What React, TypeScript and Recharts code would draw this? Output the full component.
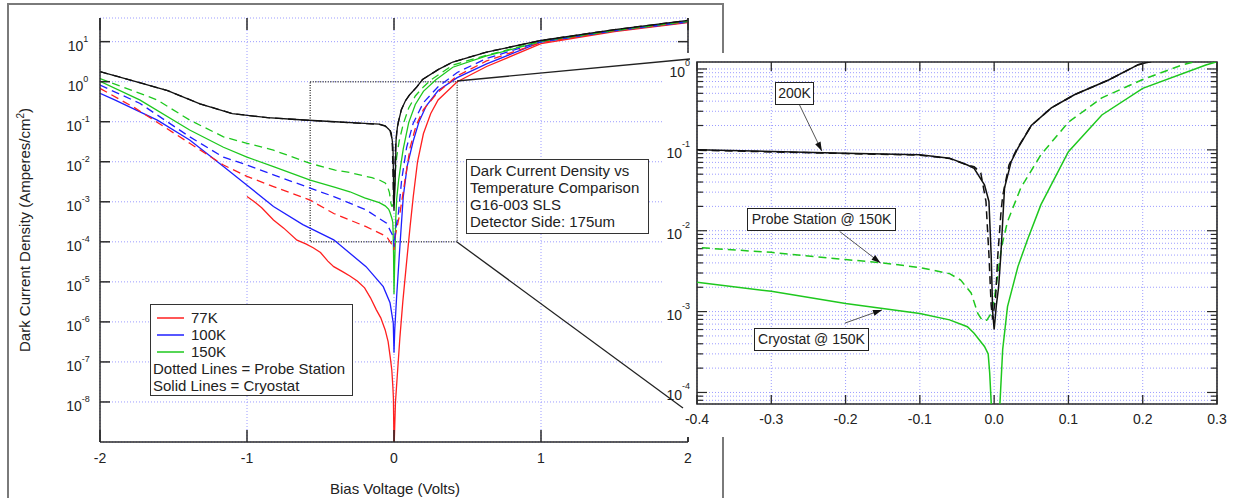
import {
  CartesianGrid,
  Legend,
  Line,
  LineChart,
  ReferenceArea,
  ReferenceLine,
  XAxis,
  YAxis,
} from "recharts";

// 77K
const bias77Cryo = [-1.0, -0.95, -0.9, -0.82, -0.75, -0.66, -0.6, -0.55, -0.5, -0.45, -0.41, -0.35, -0.3, -0.25, -0.2, -0.16, -0.12, -0.09, -0.06, -0.04, -0.025, -0.015, -0.008, -0.004, -0.002, 0, 0.005, 0.01, 0.025, 0.04, 0.06, 0.086, 0.11, 0.131, 0.16, 0.2, 0.25, 0.3, 0.43, 0.63, 1.0, 1.5, 2.0];
const jd77Cryo = [1.35e-3, 1.0e-3, 7.1e-4, 3.5e-4, 2.2e-4, 1.1e-4, 8.9e-5, 7.1e-5, 5.4e-5, 3.3e-5, 2.4e-5, 1.8e-5, 1.4e-5, 1.05e-5, 7.1e-6, 4e-6, 2e-6, 1.26e-6, 6.3e-7, 3.2e-7, 1.26e-7, 6.3e-8, 2.5e-8, 1.26e-8, 3.2e-9, 6e-10, 2.5e-9, 1e-8, 6.3e-8, 4e-7, 3.2e-6, 3.2e-5, 2.5e-4, 1.35e-3, 0.01, 0.05, 0.16, 0.35, 1.0, 2.4, 8.9, 17.8, 30];
const bias77Probe = [-2, -1.77, -1.39, -1.16, -1.0, -0.82, -0.57, -0.41, -0.19, -0.05, -0.005, 0, 0.01, 0.04, 0.075, 0.11, 0.15, 0.2, 0.3, 0.43, 0.63, 1.0, 1.5, 2.0];
const jd77Probe = [0.68, 0.23, 0.029, 8.3e-3, 4.3e-3, 2.4e-3, 1.1e-3, 5.1e-4, 2.4e-4, 1.35e-4, 7.6e-5, 6.3e-5, 1.5e-4, 5.1e-4, 3.5e-3, 0.023, 0.08, 0.2, 0.55, 1.4, 3.3, 9.5, 18.5, 31];

// 100K
const bias100Cryo = [-2, -1.9, -1.61, -1.39, -1.16, -1.0, -0.82, -0.62, -0.41, -0.19, -0.073, -0.027, -0.005, 0, 0.005, 0.018, 0.04, 0.063, 0.09, 0.13, 0.17, 0.22, 0.3, 0.43, 0.63, 1.0, 1.5, 2.0];
const jd100Cryo = [0.51, 0.35, 0.11, 0.035, 7.6e-3, 2.6e-3, 7.6e-4, 2.7e-4, 1.12e-4, 2.4e-5, 7.6e-6, 3.0e-6, 9.3e-7, 1.7e-7, 6.3e-7, 4.3e-6, 7.6e-5, 1.35e-3, 7.9e-3, 0.032, 0.1, 0.25, 0.6, 1.26, 2.8, 9.8, 18.6, 31];
const bias100Probe = [-2, -1.73, -1.39, -1.16, -1.0, -0.82, -0.57, -0.41, -0.19, -0.05, -0.005, 0, 0.01, 0.03, 0.052, 0.086, 0.13, 0.2, 0.3, 0.43, 0.63, 1.0, 1.5, 2.0];
const jd100Probe = [0.82, 0.29, 0.042, 0.013, 8.3e-3, 4.7e-3, 2.2e-3, 1.35e-3, 6.3e-4, 2.9e-4, 1.35e-4, 7.6e-5, 2e-4, 5.1e-4, 3.5e-3, 0.023, 0.09, 0.3, 0.75, 1.7, 3.8, 10, 19, 32];

// 150K
const bias150Cryo = [-2, -1.73, -1.39, -1.16, -1.0, -0.82, -0.57, -0.4, -0.3, -0.2, -0.1, -0.06, -0.036, -0.027, -0.013, -0.008, -0.006, -0.003, 0, 0.004, 0.008, 0.0115, 0.018, 0.032, 0.045, 0.063, 0.1, 0.145, 0.2, 0.285, 0.4, 0.63, 1.0, 1.5, 2.0];
const jd150Cryo = [1.02, 0.35, 0.062, 0.023, 0.013, 7.6e-3, 3.5e-3, 2.3e-3, 1.78e-3, 1.26e-3, 9.5e-4, 7.9e-4, 6.5e-4, 5.4e-4, 3.7e-4, 3.0e-4, 1.74e-4, 5e-5, 5e-6, 2.5e-5, 7.9e-5, 3.4e-4, 1.15e-3, 3.6e-3, 7.8e-3, 0.021, 0.095, 0.27, 0.575, 1.12, 2.3, 4.4, 10, 19, 32];
const bias150Probe = [-2, -1.61, -1.39, -1.16, -1.0, -0.82, -0.57, -0.4, -0.3, -0.2, -0.15, -0.1, -0.06, -0.045, -0.031, -0.022, -0.016, -0.01, -0.004, 0, 0.004, 0.01, 0.018, 0.036, 0.063, 0.1, 0.145, 0.2, 0.253, 0.4, 0.63, 1.0, 1.5, 2.0];
const jd150Probe = [1.2, 0.35, 0.11, 0.042, 0.029, 0.0195, 9.1e-3, 6.2e-3, 5.4e-3, 4.4e-3, 4.0e-3, 3.5e-3, 2.95e-3, 2.45e-3, 1.7e-3, 9.5e-4, 7.8e-4, 7.8e-4, 9.5e-4, 1.4e-3, 2.5e-3, 6.3e-3, 0.013, 0.034, 0.087, 0.22, 0.44, 0.74, 1.12, 2.6, 4.6, 10.2, 19, 32];

// 200K
const bias200Cryo = [-2, -1.78, -1.54, -1.32, -1.1, -0.86, -0.64, -0.4, -0.2, -0.1, -0.06, -0.036, -0.027, -0.013, -0.007, -0.004, -0.002, 0, 0.003, 0.006, 0.009, 0.014, 0.023, 0.032, 0.05, 0.077, 0.108, 0.154, 0.194, 0.3, 0.4, 0.63, 1.0, 1.5, 2.0];
const jd200Cryo = [1.78, 1.07, 0.6, 0.28, 0.16, 0.126, 0.112, 0.1, 0.091, 0.087, 0.079, 0.065, 0.059, 0.037, 0.023, 5e-3, 1e-3, 6e-4, 1.2e-3, 2e-3, 5e-3, 0.034, 0.072, 0.105, 0.2, 0.33, 0.48, 0.73, 1.13, 2.0, 3.1, 5.5, 10.7, 20, 34];
const bias200Probe = [-2, -1.78, -1.54, -1.32, -1.1, -0.86, -0.64, -0.4, -0.2, -0.1, -0.06, -0.036, -0.027, -0.018, -0.011, -0.007, -0.004, -0.002, 0.002, 0.005, 0.009, 0.0115, 0.02, 0.03, 0.05, 0.077, 0.108, 0.154, 0.194, 0.3, 0.4, 0.63, 1.0, 1.5, 2.0];
const jd200Probe = [1.78, 1.07, 0.6, 0.28, 0.16, 0.126, 0.112, 0.099, 0.09, 0.086, 0.078, 0.065, 0.062, 0.052, 0.023, 5e-3, 1.2e-3, 8e-4, 1.5e-3, 5e-3, 0.016, 0.027, 0.065, 0.1, 0.2, 0.33, 0.48, 0.73, 1.13, 2.0, 3.1, 5.5, 10.7, 20, 34];

const mainVoltTicks = [-2, -1, 0, 1, 2];
const mainDecadeTicks = [1e-8, 1e-7, 1e-6, 1e-5, 1e-4, 1e-3, 1e-2, 1e-1, 1, 10];
const insetVoltTicks = [-0.4, -0.3, -0.2, -0.1, 0, 0.1, 0.2, 0.3];
const insetDecades = [1e-5, 1e-4, 1e-3, 1e-2, 1e-1, 1];
const insetMantissas = [1, 2, 3, 4, 5, 6, 7, 8, 9];

const infoLines = ["Dark Current Density vs", "Temperature Comparison", "G16-003 SLS", "Detector Side: 175um"];
const legendNotes = ["Dotted Lines = Probe Station", "Solid Lines = Cryostat"];

const callouts = [
  { text: "200K", left: 775, top: 82, width: 39, from: { x: -0.262, y: 0.36 }, to: { x: -0.232, y: 0.097 } },
  { text: "Probe Station @ 150K", left: 747, top: 208, width: 149, from: { x: -0.208, y: 9.8e-3 }, to: { x: -0.153, y: 4.0e-3 } },
  { text: "Cryostat @ 150K", left: 754, top: 328, width: 115, from: { x: -0.201, y: 7.2e-4 }, to: { x: -0.151, y: 1.05e-3 } },
];

const FONT = '"Liberation Sans", Arial, Helvetica, sans-serif';
const RED = "#ff1f1f";
const BLUE = "#1f1fff";
const GREEN = "#1ec81e";
const BLACK = "#111";
const GRID = "#9c9cff";
const AXIS = "#2a2a2a";

const MAIN_W = 588;
const MAIN_H = 424;
const INSET_W = 520;
const INSET_H = 342;
const INSET_X = [-0.4, 0.3];
const INSET_Y = [7.2e-5, 1.22];
// volts per pixel in the inset, used to size its y tick marks
const INSET_VPP = (INSET_X[1] - INSET_X[0]) / INSET_W;

const toPoints = (bias: number[], jd: number[]) => bias.map((v, i) => ({ v, j: jd[i] }));

type Series = { key: string; name: string; data: { v: number; j: number }[]; color: string; dashed: boolean };

const s77c: Series = { key: "77c", name: "77K", data: toPoints(bias77Cryo, jd77Cryo), color: RED, dashed: false };
const s100c: Series = { key: "100c", name: "100K", data: toPoints(bias100Cryo, jd100Cryo), color: BLUE, dashed: false };
const s150c: Series = { key: "150c", name: "150K", data: toPoints(bias150Cryo, jd150Cryo), color: GREEN, dashed: false };
const s77p: Series = { key: "77p", name: "77K probe", data: toPoints(bias77Probe, jd77Probe), color: RED, dashed: true };
const s100p: Series = { key: "100p", name: "100K probe", data: toPoints(bias100Probe, jd100Probe), color: BLUE, dashed: true };
const s150p: Series = { key: "150p", name: "150K probe", data: toPoints(bias150Probe, jd150Probe), color: GREEN, dashed: true };
const s200p: Series = { key: "200p", name: "200K probe", data: toPoints(bias200Probe, jd200Probe), color: BLACK, dashed: true };
const s200c: Series = { key: "200c", name: "200K", data: toPoints(bias200Cryo, jd200Cryo), color: BLACK, dashed: false };

const mainSeries = [s77c, s100c, s150c, s77p, s100p, s150p, s200p, s200c];
const insetSeries = [s150c, s150p, s200p, s200c];
const legendSeries = [s77c, s100c, s150c];

const insetTicks = insetDecades
  .flatMap((d) => insetMantissas.map((m) => m * d))
  .filter((t) => t >= INSET_Y[0] && t <= INSET_Y[1]);

const isDecade = (v: number) => Math.abs(Math.log10(v) - Math.round(Math.log10(v))) < 1e-9;

const mainXTick = (p: any) => {
  const { x, y, payload } = p;
  return (
    <g>
      <line x1={x} y1={y} x2={x} y2={y - 12} stroke={AXIS} strokeWidth={1.5} />
      <line x1={x} y1={y - MAIN_H} x2={x} y2={y - MAIN_H + 12} stroke={AXIS} strokeWidth={1.5} />
      <text x={x} y={y + 21} textAnchor="middle" fontSize={14} fill="#222" fontFamily={FONT}>
        {String(payload.value)}
      </text>
    </g>
  );
};

const mainYTick = (p: any) => {
  const { x, y, payload } = p;
  const e = Math.round(Math.log10(payload.value));
  return (
    <g>
      <line x1={x} y1={y} x2={x + 10} y2={y} stroke={AXIS} strokeWidth={1.5} />
      <line x1={x + MAIN_W} y1={y} x2={x + MAIN_W - 10} y2={y} stroke={AXIS} strokeWidth={1.5} />
      <text x={x - 22} y={y + 9} textAnchor="middle" fontSize={14} fill="#222" fontFamily={FONT}>
        10
        <tspan dy={-9} fontSize={9}>
          {String(e)}
        </tspan>
      </text>
    </g>
  );
};

const insetXTick = (p: any) => {
  const { x, y, payload } = p;
  return (
    <g>
      <line x1={x} y1={y} x2={x} y2={y - 9} stroke={AXIS} strokeWidth={1.3} />
      <line x1={x} y1={y - INSET_H} x2={x} y2={y - INSET_H + 9} stroke={AXIS} strokeWidth={1.3} />
      <text x={x} y={y + 20} textAnchor="middle" fontSize={14} fill="#222" fontFamily={FONT}>
        {payload.value.toFixed(1)}
      </text>
    </g>
  );
};

const insetYTick = (p: any) => {
  const { x, y, payload } = p;
  if (!isDecade(payload.value)) return <g />;
  const e = Math.round(Math.log10(payload.value));
  return (
    <text x={x - 7} y={y + 8} textAnchor="end" fontSize={14} fill="#222" fontFamily={FONT}>
      10
      <tspan dy={-11} fontSize={9}>
        {String(e)}
      </tspan>
    </text>
  );
};

const Arrow = (p: any) => {
  const { x1, y1, x2, y2 } = p;
  const a = Math.atan2(y2 - y1, x2 - x1);
  const L = 9;
  const W = 3;
  const bx = x2 - L * Math.cos(a);
  const by = y2 - L * Math.sin(a);
  const pts = `${x2},${y2} ${bx - W * Math.sin(a)},${by + W * Math.cos(a)} ${bx + W * Math.sin(a)},${by - W * Math.cos(a)}`;
  return (
    <g>
      <line x1={x1} y1={y1} x2={x2} y2={y2} stroke="#555" strokeWidth={1} />
      <polygon points={pts} fill="#111" />
    </g>
  );
};

const renderLegend = () => (
  <div
    style={{
      boxSizing: "border-box",
      width: 203,
      height: 92,
      border: "1.5px solid #333",
      background: "#fff",
      padding: "4px 2px",
      fontFamily: FONT,
      fontSize: 15,
      lineHeight: "17px",
      color: "#222",
    }}
  >
    {legendSeries.map((s) => (
      <div key={s.key} style={{ display: "flex", alignItems: "center", height: 17 }}>
        <svg width={34} height={10} style={{ marginLeft: 4 }}>
          <line x1={0} y1={5} x2={27} y2={5} stroke={s.color} strokeWidth={1.5} />
        </svg>
        <span>{s.name}</span>
      </div>
    ))}
    {legendNotes.map((n) => (
      <div key={n} style={{ height: 17, whiteSpace: "nowrap" }}>
        {n}
      </div>
    ))}
  </div>
);

const App = () => {
  return (
    <div style={{ position: "absolute", left: 0, top: 0, width: 1243, height: 498, overflow: "hidden", background: "#fff", fontFamily: FONT }}>
      <div
        style={{
          position: "absolute",
          left: 7,
          top: 3,
          width: 717,
          height: 560,
          boxSizing: "border-box",
          border: "2px solid #7a7a7a",
        }}
      />
      <div style={{ position: "absolute", left: 0, top: 0 }}>
        <LineChart width={720} height={498} margin={{ top: 18, right: 32, bottom: 26, left: 40 }}>
          <CartesianGrid stroke={GRID} strokeDasharray="1 2" />
          <XAxis
            type="number"
            dataKey="v"
            domain={[-2, 2]}
            ticks={mainVoltTicks}
            interval={0}
            allowDataOverflow
            height={30}
            tickSize={0}
            tickMargin={0}
            tickLine={false}
            tick={mainXTick}
            axisLine={{ stroke: AXIS, strokeWidth: 1.5 }}
          />
          <YAxis
            type="number"
            scale="log"
            domain={[1e-9, 39]}
            ticks={mainDecadeTicks}
            interval={0}
            allowDataOverflow
            width={60}
            tickSize={0}
            tickMargin={0}
            tickLine={false}
            tick={mainYTick}
            axisLine={{ stroke: AXIS, strokeWidth: 1.5 }}
          />
          <ReferenceLine x={2} stroke={AXIS} strokeWidth={1.5} />
          <ReferenceArea x1={-0.57} x2={0.43} y1={1e-4} y2={1} fill="none" fillOpacity={0} stroke="#444" strokeWidth={1.5} strokeDasharray="1 1.5" />
          {mainSeries.map((s) => (
            <Line
              key={s.key}
              data={s.data}
              dataKey="j"
              name={s.name}
              type="linear"
              stroke={s.color}
              strokeWidth={1.3}
              strokeDasharray={s.dashed ? "8 5" : undefined}
              dot={false}
              activeDot={false}
              legendType="none"
              isAnimationActive={false}
            />
          ))}
          <Legend
            layout="vertical"
            align="center"
            verticalAlign="middle"
            content={renderLegend}
            wrapperStyle={{ left: 150, top: 304, width: 203, height: 92 }}
          />
        </LineChart>
      </div>

      <div style={{ position: "absolute", left: 466, top: 159, width: 183, height: 75, boxSizing: "border-box", border: "1.5px solid #333", background: "#fff", padding: "2px 3px", fontSize: 15, lineHeight: "17px", color: "#222", whiteSpace: "nowrap" }}>
        {infoLines.map((t) => (
          <div key={t}>{t}</div>
        ))}
      </div>

      <div style={{ position: "absolute", left: 662, top: 53, width: 581, height: 384, background: "#fff" }}>
        <LineChart width={581} height={384} margin={{ top: 9, right: 26, bottom: 8, left: 5 }}>
          <CartesianGrid stroke={GRID} strokeDasharray="1 2" />
          <XAxis
            type="number"
            dataKey="v"
            domain={INSET_X}
            ticks={insetVoltTicks}
            interval={0}
            allowDataOverflow
            height={25}
            tickSize={0}
            tickMargin={0}
            tickLine={false}
            tick={insetXTick}
            axisLine={false}
          />
          <YAxis
            type="number"
            scale="log"
            domain={INSET_Y}
            ticks={insetTicks}
            interval={0}
            allowDataOverflow
            width={30}
            tickSize={0}
            tickMargin={0}
            tickLine={false}
            tick={insetYTick}
            axisLine={false}
          />
          <ReferenceArea x1={INSET_X[0]} x2={INSET_X[1]} y1={INSET_Y[0]} y2={INSET_Y[1]} fill="none" fillOpacity={0} stroke={AXIS} strokeWidth={1.6} />
          {insetTicks.flatMap((t) => {
            const len = (isDecade(t) ? 10 : 6) * INSET_VPP;
            return [
              <ReferenceLine key={`l${t}`} ifOverflow="visible" segment={[{ x: INSET_X[0], y: t }, { x: INSET_X[0] + len, y: t }]} stroke={AXIS} strokeWidth={1.2} />,
              <ReferenceLine key={`r${t}`} ifOverflow="visible" segment={[{ x: INSET_X[1], y: t }, { x: INSET_X[1] - len, y: t }]} stroke={AXIS} strokeWidth={1.2} />,
            ];
          })}
          {insetSeries.map((s) => (
            <Line
              key={s.key}
              data={s.data}
              dataKey="j"
              name={s.name}
              type="linear"
              stroke={s.color}
              strokeWidth={1.5}
              strokeDasharray={s.dashed ? "8 5" : undefined}
              dot={false}
              activeDot={false}
              legendType="none"
              isAnimationActive={false}
            />
          ))}
          {callouts.map((c) => (
            <ReferenceLine key={c.text} segment={[c.from, c.to]} shape={Arrow} />
          ))}
        </LineChart>
      </div>

      {callouts.map((c) => (
        <div
          key={c.text}
          style={{
            position: "absolute",
            left: c.left,
            top: c.top,
            width: c.width,
            height: 23,
            boxSizing: "border-box",
            border: "1.5px solid #222",
            background: "#fff",
            fontSize: 14,
            lineHeight: "20px",
            textAlign: "center",
            color: "#222",
            whiteSpace: "nowrap",
          }}
        >
          {c.text}
        </div>
      ))}

      <svg width={1243} height={498} style={{ position: "absolute", left: 0, top: 0, pointerEvents: "none" }}>
        <line x1={457} y1={81} x2={690} y2={59} stroke="#222" strokeWidth={1.3} />
        <line x1={457} y1={242} x2={683} y2={408} stroke="#222" strokeWidth={1.3} />
        <text transform="translate(29.5,230) rotate(-90)" textAnchor="middle" fontSize={15} fill="#222" fontFamily={FONT}>
          Dark Current Density (Amperes/cm
          <tspan dy={-6} fontSize={10}>
            2
          </tspan>
          <tspan dy={6}>)</tspan>
        </text>
        <text x={395} y={494} textAnchor="middle" fontSize={15} fill="#222" fontFamily={FONT}>
          Bias Voltage (Volts)
        </text>
      </svg>
    </div>
  );
};

export default App;
